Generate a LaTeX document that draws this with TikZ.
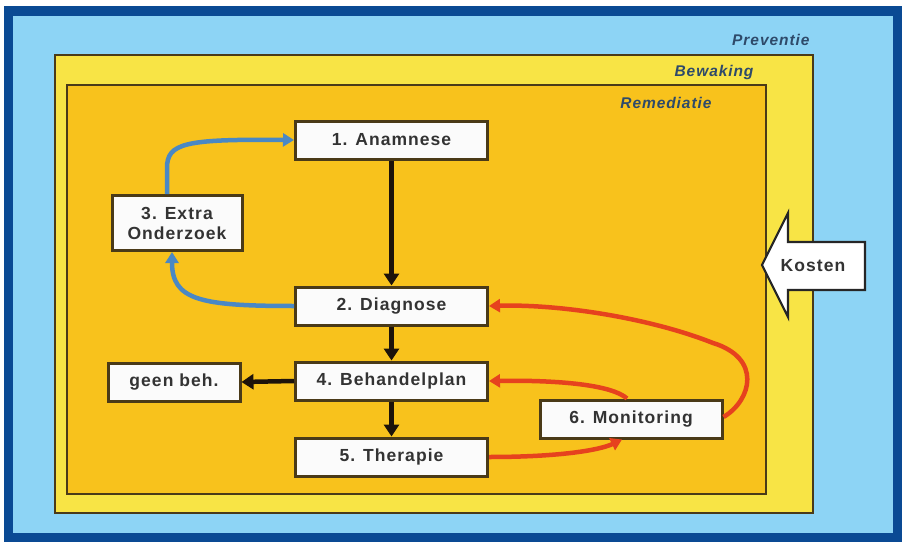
\documentclass[tikz,border=0pt]{standalone}
\usepackage{fontspec}
\setmainfont{Liberation Sans}[LetterSpace=6]
\usetikzlibrary{arrows.meta}
\definecolor{dblue}{HTML}{0A4A94}
\definecolor{lblue}{HTML}{8DD4F5}
\definecolor{yel}{HTML}{F8E445}
\definecolor{ora}{HTML}{F8C21C}
\definecolor{edge}{HTML}{4A3A18}
\definecolor{bluearr}{HTML}{4A88C4}
\definecolor{redarr}{HTML}{E6421E}
\definecolor{txt}{HTML}{333333}
\definecolor{lbl}{HTML}{2E4A6A}
\tikzset{
  stepbox/.style={draw=edge, line width=3pt, fill=white!97!gray, text=txt,
    font=\fontsize{17.5}{20}\selectfont\bfseries, align=center, inner sep=0pt},
  blackarr/.style={draw=black!85!brown, line width=4.5pt, -{Triangle[width=15pt,length=12pt]}},
  bluearrow/.style={draw=bluearr, line width=4.5pt, -{Triangle[width=13pt,length=11pt]}},
  redarrow/.style={draw=redarr, line width=4.5pt, -{Triangle[width=13pt,length=11pt]}},
  zonelabel/.style={font=\fontsize{15.5}{18}\selectfont\bfseries\itshape, text=lbl, anchor=east}
}
\begin{document}
\begin{tikzpicture}[x=1pt,y=-1pt]
\useasboundingbox (0,0) rectangle (906,546);
% frames
\fill[white] (0,0) rectangle (906,546);
\fill[dblue] (4,6) rectangle (902,542);
\fill[lblue] (13,16) rectangle (893,533);
\draw[edge, line width=1.8pt, fill=yel] (55,55) rectangle (813,513);
\draw[edge, line width=1.8pt, fill=ora] (67,85) rectangle (766,494);
\node[zonelabel] (lp) at (813,40) {Preventie};
\node[zonelabel] (lb) at (757,72) {Bewaking};
\node[zonelabel] (lr) at (715,103) {Remediatie};
% boxes
\node[stepbox, minimum width=192pt, minimum height=38pt] (a1) at (391.5,140) {1. Anamnese};
\node[stepbox, minimum width=192pt, minimum height=38pt] (a2) at (391.5,306) {2. Diagnose};
\node[stepbox, minimum width=130pt, minimum height=55pt] (a3) at (177,223) {3. Extra\\Onderzoek};
\node[stepbox, minimum width=192pt, minimum height=38pt] (a4) at (391.5,381) {4. Behandelplan};
\node[stepbox, minimum width=132pt, minimum height=38pt] (gb) at (174,382) {geen beh.};
\node[stepbox, minimum width=192pt, minimum height=38pt] (a5) at (391.5,457) {5. Therapie};
\node[stepbox, minimum width=182pt, minimum height=38pt] (a6) at (631,419) {6. Monitoring};
% Kosten arrow
\draw[black!85, line width=2.2pt, fill=white, line join=miter]
  (762,265) -- (788,213) -- (788,242) -- (865,242) -- (865,290) -- (788,290) -- (788,317) -- cycle;
\node[text=txt, font=\fontsize{17.5}{20}\selectfont\bfseries] (kost) at (813,266) {Kosten};
% black arrows
\draw[blackarr] (a1.south) -- (a2.north);
\draw[blackarr] (a2.south) -- (a4.north);
\draw[blackarr] (a4.south) -- (a5.north);
\draw[blackarr] (a4.west) -- (gb.east);
% blue arrows
\draw[bluearrow] (a2.west) .. controls (200,306) and (172,300) .. ([xshift=-5pt]a3.south);
\draw[bluearrow] ([xshift=-10pt]a3.north) -- (167,168) .. controls (167,143) and (185,139) .. (a1.west);
% red arrows
\draw[redarrow] (a5.east) .. controls (560,457) and (600,450) .. ([xshift=-9pt]a6.south);
\draw[redarrow] ([xshift=-4pt]a6.north) .. controls (612,385) and (560,380) .. (a4.east);
\coordinate (rtop) at (713,343);
\draw[redarrow] ([yshift=2pt]a6.east) .. controls (752,400) and (762,358) .. (rtop)
   .. controls (650,318) and (560,304) .. (a2.east);
\end{tikzpicture}
\end{document}
